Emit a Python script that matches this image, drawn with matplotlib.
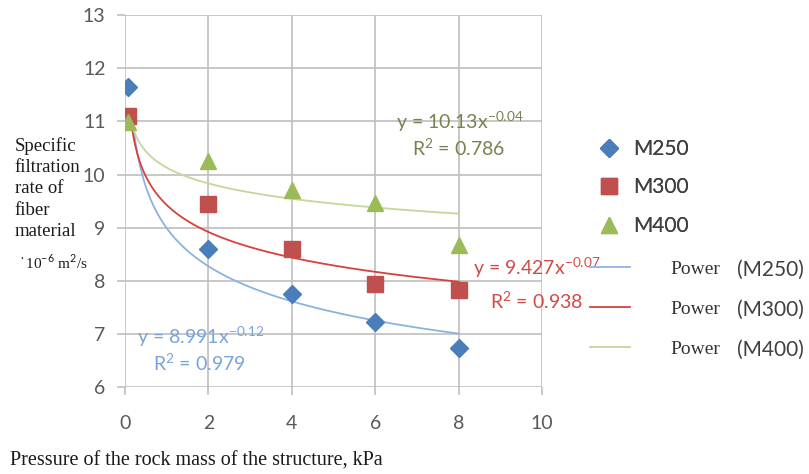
import numpy as np
import matplotlib
matplotlib.use('Agg')
import matplotlib.pyplot as plt

# measured points
pressure = [0.08, 2, 4, 6, 8]
m250 = [11.65, 8.60, 7.75, 7.22, 6.73]
m300 = [11.10, 9.44, 8.60, 7.94, 7.83]
m400 = [10.98, 10.25, 9.70, 9.47, 8.68]

# power trend lines y = a * x^b
trend_a = [8.991, 9.427, 10.13]
trend_b = [-0.12, -0.08, -0.043]
trend_start = 0.17
eq_text = ['y = 8.991x$^{-0.12}$', 'y = 9.427x$^{-0.07}$', 'y = 10.13x$^{-0.04}$']
r2_text = ['R$^2$ = 0.979', 'R$^2$ = 0.938', 'R$^2$ = 0.786']

names = ['M250', 'M300', 'M400']
point_colors = ['#4a7ebb', '#c0504d', '#9bbb59']
line_colors = ['#8cb2e0', '#d9403c', '#c4d79b']
text_colors = ['#78a4dc', '#d24a48', '#77824f']
markers = ['D', 's', '^']
msizes = [9, 11, 11]

plt.rcParams['font.family'] = ['Lato', 'DejaVu Sans']
plt.rcParams['mathtext.fontset'] = 'custom'
plt.rcParams['mathtext.rm'] = 'Lato'

fig = plt.figure(figsize=(8.09, 4.74), dpi=100)
ax = fig.add_axes([0.1545, 0.1835, 0.5155, 0.7845])

series = [m250, m300, m400]
pts = []
for i in range(3):
    p, = ax.plot(pressure, series[i], linestyle='none', marker=markers[i],
                 color=point_colors[i], markersize=msizes[i], zorder=4)
    pts.append(p)

lines = []
xs = np.linspace(trend_start, max(pressure), 300)
for i in range(3):
    l, = ax.plot(xs, trend_a[i] * xs ** trend_b[i], color=line_colors[i], lw=1.3, zorder=3)
    lines.append(l)

ax.set_xlim(0, 10)
ax.set_ylim(6, 13)
ax.set_xticks(range(0, 11, 2))
ax.set_yticks(range(6, 14))
ax.grid(True, color='#bfbfbf', lw=1.2)
ax.set_axisbelow(True)
for s in ax.spines.values():
    s.set_visible(False)
ax.tick_params(colors='#bfbfbf', labelcolor='#595959', labelsize=14, length=6, width=1.2)
ax.tick_params(axis='x', pad=14)
ax.tick_params(axis='y', pad=8)

# trend equations
fs = 14
ax.text(6.5, 11.0, eq_text[2], color=text_colors[2], fontsize=fs, ha='left', va='center')
ax.text(8.0, 10.5, r2_text[2], color=text_colors[2], fontsize=fs, ha='center', va='center')
ax.text(8.35, 8.25, eq_text[1], color=text_colors[1], fontsize=fs, ha='left', va='center', clip_on=False)
ax.text(8.75, 7.63, r2_text[1], color=text_colors[1], fontsize=fs, ha='left', va='center', clip_on=False)
ax.text(0.28, 6.95, eq_text[0], color=text_colors[0], fontsize=fs, ha='left', va='center')
ax.text(1.78, 6.45, r2_text[0], color=text_colors[0], fontsize=fs, ha='center', va='center')

serif = ['Liberation Serif', 'DejaVu Serif']
fig.text(0.018, 1 - 137 / 474, 'Specific\nfiltration\nrate of\nfiber\nmaterial', family=serif,
         fontsize=13.5, va='top', ha='left', linespacing=1.33, color='#1a1a1a')
fig.text(0.022, 1 - 262 / 474, '$^\\bullet$10$^{-6}$ m$^2$/s', family=serif,
         fontsize=11, va='center', ha='left', color='#1a1a1a')
fig.text(0.012, 1 - 461 / 474, 'Pressure of the rock mass of the structure, kPa', family=serif,
         fontsize=14.5, va='center', ha='left', color='#1a1a1a')

leg1 = fig.legend(pts, names, loc='upper left', bbox_to_anchor=(0.714, 0.746),
                  frameon=False, fontsize=15, labelspacing=0.88, handletextpad=0.55,
                  labelcolor='#404040', handlelength=1.2)
fig.add_artist(leg1)
leg2 = fig.legend(lines, ['Power', 'Power', 'Power'], loc='upper left',
                  bbox_to_anchor=(0.708, 0.487), frameon=False, handlelength=2.05,
                  labelspacing=1.15, handletextpad=2.05, prop={'family': serif, 'size': 14},
                  labelcolor='#333333')

# series names after "Power" in the sans font
fig.canvas.draw()
inv = fig.transFigure.inverted()
for txt, nm in zip(leg2.get_texts(), names):
    bb = txt.get_window_extent()
    x0, y0 = inv.transform((bb.x1 + 17, (bb.y0 + bb.y1) / 2))
    fig.text(x0, y0, '(' + nm + ')', fontsize=15, color='#404040', ha='left', va='center')

fig.savefig('out.png', dpi=100)
